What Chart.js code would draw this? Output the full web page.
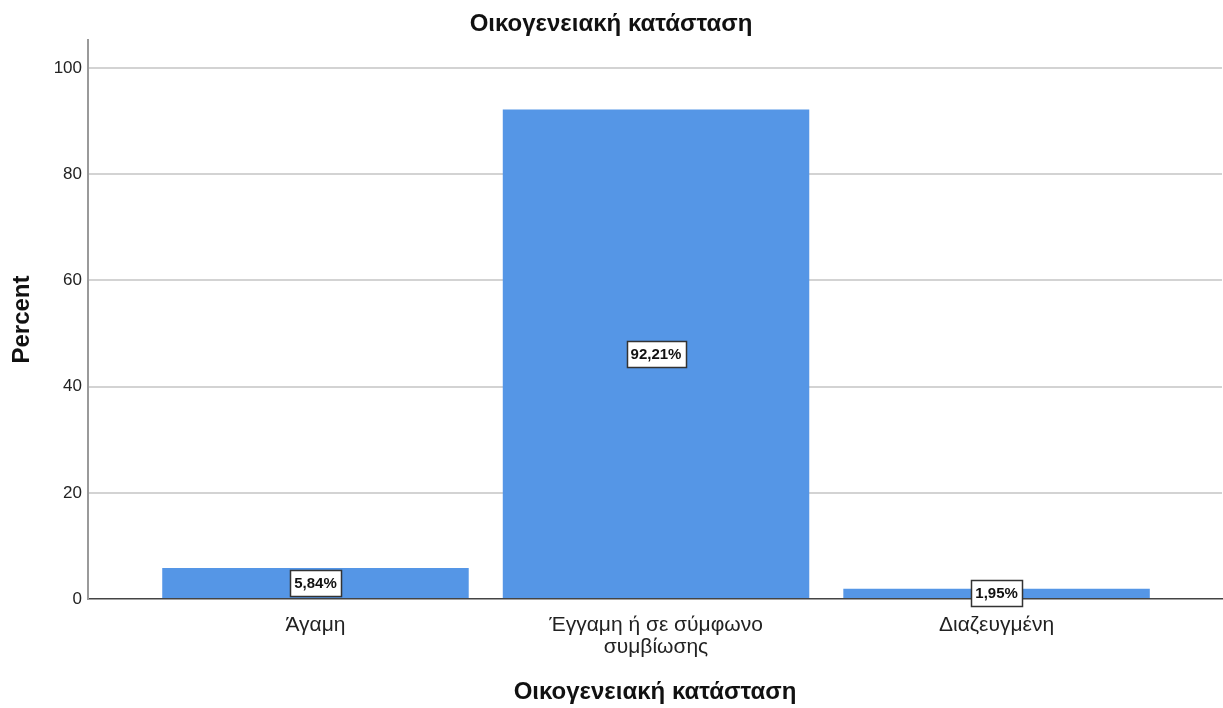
<!DOCTYPE html>
<html>
<head>
<meta charset="utf-8">
<script src="https://cdn.jsdelivr.net/npm/chart.js@4/dist/chart.umd.min.js"></script>
<style>
  html, body { margin: 0; padding: 0; background: #ffffff; }
  #wrap { width: 1223px; height: 708px; }
</style>
</head>
<body>
<div id="wrap"><canvas id="c" width="1223" height="708"></canvas></div>
<script>
// Marital status distribution (percent of respondents)
const chartTitle = 'Οικογενειακή κατάσταση';
const categories = [
  ['Άγαμη'],
  ['Έγγαμη ή σε σύμφωνο', 'συμβίωσης'],
  ['Διαζευγμένη']
];
const percentValues = [5.84, 92.21, 1.95];
const valueLabels = ['5,84%', '92,21%', '1,95%'];
const yTicks = [0, 20, 40, 60, 80, 100];

const FONT = "'Liberation Sans', Arial, Helvetica, sans-serif";

// Draws each value in a small framed box centred on its bar
const barValueBoxes = {
  id: 'barValueBoxes',
  afterDatasetsDraw(chart) {
    const ctx = chart.ctx;
    const meta = chart.getDatasetMeta(0);
    ctx.save();
    ctx.font = "bold 15px " + FONT;
    ctx.textAlign = 'center';
    ctx.textBaseline = 'middle';
    meta.data.forEach((bar, i) => {
      const text = valueLabels[i];
      const cx = bar.x;
      const cy = (bar.y + bar.base) / 2;
      const w = Math.round(ctx.measureText(text).width + 8);
      const h = 26;
      const x0 = Math.round(cx - w / 2) + 0.5;
      const y0 = Math.round(cy - h / 2) + 0.5;
      ctx.fillStyle = '#ffffff';
      ctx.fillRect(x0, y0, w, h);
      ctx.lineWidth = 1.5;
      ctx.strokeStyle = '#333333';
      ctx.strokeRect(x0, y0, w, h);
      ctx.fillStyle = '#111111';
      ctx.fillText(text, cx, cy + 1);
    });
    ctx.restore();
  }
};

new Chart(document.getElementById('c'), {
  type: 'bar',
  data: {
    datasets: [{
      data: categories.map((c, i) => ({ x: i, y: percentValues[i] })),
      backgroundColor: '#5596e6',
      borderWidth: 0,
      barPercentage: 0.9,
      categoryPercentage: 1.0
    }]
  },
  options: {
    responsive: false,
    animation: false,
    layout: { padding: { left: 0, right: 1, top: 0, bottom: 0 } },
    plugins: {
      legend: { display: false },
      tooltip: { enabled: false },
      title: {
        display: true,
        text: chartTitle,
        color: '#111111',
        font: { family: FONT, size: 24, weight: 'bold', lineHeight: 1.2 },
        padding: { top: 10, bottom: 1.2 }
      }
    },
    scales: {
      x: {
        type: 'linear',
        offset: false,
        min: -0.668,
        max: 2.662,
        afterBuildTicks(scale) {
          scale.ticks = categories.map((c, i) => ({ value: i }));
        },
        afterFit(scale) { scale.height = 109; },
        ticks: {
          autoSkip: false,
          maxRotation: 0,
          padding: 15,
          color: '#222222',
          font: { family: FONT, size: 21, lineHeight: 1.05 },
          callback: (v) => categories[v]
        },
        grid: { display: false, drawTicks: false, offset: false },
        border: { display: true, color: '#444444', width: 1.5 },
        title: {
          display: true,
          text: chartTitle,
          color: '#111111',
          font: { family: FONT, size: 24, weight: 'bold', lineHeight: 1.2 },
          padding: { top: 0, bottom: 1.6 }
        }
      },
      y: {
        min: 0,
        max: 105.3,
        afterBuildTicks(scale) {
          scale.ticks = yTicks.map(v => ({ value: v }));
        },
        afterFit(scale) { scale.width = 88; },
        ticks: {
          padding: 6,
          color: '#222222',
          font: { family: FONT, size: 17 }
        },
        grid: {
          drawTicks: false,
          color: (ctx) => ctx.tick && ctx.tick.value === 0 ? 'rgba(0,0,0,0)' : '#d3d3d3',
          lineWidth: 2
        },
        border: { display: true, color: '#9a9a9a', width: 2 },
        title: {
          display: true,
          text: 'Percent',
          color: '#111111',
          font: { family: FONT, size: 24, weight: 'bold', lineHeight: 1.2 },
          padding: { top: 7.6, bottom: 0 }
        }
      }
    }
  },
  plugins: [barValueBoxes]
});
</script>
</body>
</html>
